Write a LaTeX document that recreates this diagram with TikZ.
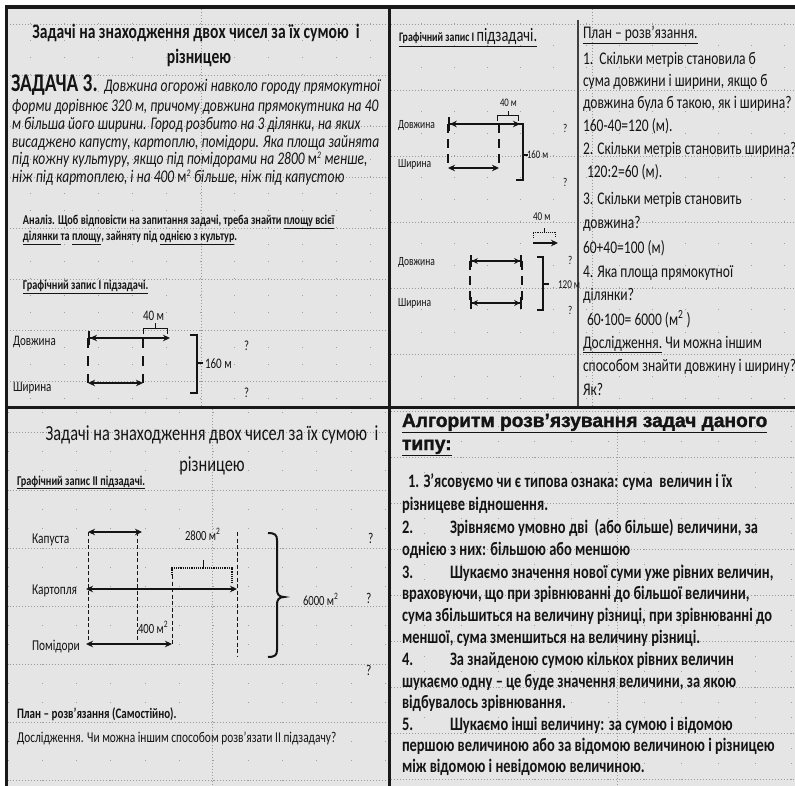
\documentclass[tikz,border=0pt]{standalone}
\usepackage{fontspec}
\setmainfont{Carlito}[FakeStretch=0.76]
\newfontfamily\headfont{Liberation Sans}[FakeStretch=1.0,FakeBold=1.5]
\usetikzlibrary{arrows.meta}
\definecolor{panelc}{RGB}{229,229,229}
\definecolor{ink}{RGB}{20,20,20}
\newcommand\fs[1]{\fontsize{#1pt}{#1pt}\selectfont}
\newcommand\panelgrid[9]{%
\begin{scope}
\clip (#1,#2) rectangle (#3,#4);
\foreach \j in {0,...,30}{\foreach \i in {0,...,12}{\fill[dotc] ({#5+#6*\i-0.5},{#7+#8*\j/3-0.5}) rectangle ++(1,1);}}
\foreach \j in {0,...,10}{\draw[gline] (#1,{#7+#8*\j}) -- (#3,{#7+#8*\j});}
\draw[gline] (#9,#2) -- (#9,#4);
\end{scope}}
\tikzset{
 dotc/.style={fill=black!38},
 gline/.style={draw=black!40, line width=0.7pt, dash pattern=on 1pt off 2pt},
 tx/.style={inner sep=0pt, outer sep=0pt, text=ink, anchor=base west},
 txc/.style={tx, anchor=base},
 border/.style={line width=3.2pt, black!90},
 arr/.style={line width=2pt, draw=ink, {Stealth[length=7pt,width=6.5pt]}-{Stealth[length=7pt,width=6.5pt]}},
 barr/.style={line width=2pt, draw=ink, {Bar[width=14pt]Stealth[length=7pt,width=6.5pt]}-{Stealth[length=7pt,width=6.5pt]}},
 bbarr/.style={line width=1.8pt, draw=ink, {Bar[width=12pt]Stealth[length=6pt,width=6pt]}-{Stealth[length=6pt,width=6pt]Bar[width=12pt]}},
 rarr/.style={line width=2pt, draw=ink, -{Stealth[length=7pt,width=6.5pt]}},
 dsh/.style={line width=2pt, draw=ink, dash pattern=on 10pt off 8pt},
 dshs/.style={line width=1.8pt, draw=ink, dash pattern=on 9pt off 6pt},
 dsht/.style={line width=0.9pt, draw=ink, dash pattern=on 4pt off 2.5pt},
 brc/.style={line width=2pt, draw=ink},
 thinb/.style={line width=0.9pt, draw=ink},
}
\begin{document}
\begin{tikzpicture}[x=1pt,y=-1pt]
\useasboundingbox (0,0) rectangle (795,786);
\fill[white] (0,0) rectangle (795,786);
\fill[panelc] (5,7) rectangle (795,786);
% grids
\panelgrid{7}{9}{388}{406}{30}{34}{-27}{51}{201}
\panelgrid{391}{9}{795}{406}{388}{33}{-42}{66}{592}
\panelgrid{7}{409}{388}{786}{8}{34.3}{374}{58}{212}
\panelgrid{391}{409}{795}{786}{388}{36.7}{365}{46}{617}
% borders
\draw[border] (5,7) -- (795,7);
\draw[border] (6.5,7) -- (6.5,786);
\draw[border] (389.5,7) -- (389.5,786);
\draw[border] (5,407.5) -- (795,407.5);
\draw[line width=1.5pt, black!75] (578,20) -- (578,406);

% ===== top-left =====
\node[txc,font=\bfseries\fs{20.5}] (t1) at (196,39) {Задачі на знаходження двох чисел за їх сумою~ і};
\node[txc,font=\bfseries\fs{20.5}] (t2) at (199,64) {різницею};
\node[tx,font=\bfseries\fs{25.5}] (z3) at (11,92) {ЗАДАЧА 3.};
\node[tx,font=\itshape\fs{17.8}] (i1) at (104,92) {Довжина огорожі навколо городу прямокутної};
\node[tx,font=\itshape\fs{17.8}] (i2) at (12,112) {форми дорівнює 320 м, причому довжина прямокутника на 40};
\node[tx,font=\itshape\fs{17.8}] (i3) at (12,130) {м більша його ширини. Город розбито на 3 ділянки, на яких};
\node[tx,font=\itshape\fs{17.8}] (i4) at (12,148) {висаджено капусту, картоплю, помідори. Яка площа зайнята};
\node[tx,font=\itshape\fs{17.8}] (i5) at (12,165) {під кожну культуру, якщо під помідорами на 2800 \textup{м}\textsuperscript{\fs{10}2}\ менше,};
\node[tx,font=\itshape\fs{17.8}] (i6) at (12,183) {ніж під картоплею, і на 400 \textup{м}\textsuperscript{\fs{10}2}\ більше, ніж під капустою};
\node[tx,font=\bfseries\fs{13.5}] (a1) at (23,225) {Аналіз. Щоб відповісти на запитання задачі, треба знайти \underline{площу всієї}};
\node[tx,font=\bfseries\fs{13.5}] (a2) at (23,241) {\underline{ділянки }та \underline{площу}, зайняту під \underline{однією з культур}.};
\node[tx,font=\bfseries\fs{13.5}] (g1) at (23,290) {\underline{Графічний запис І підзадачі.}};
\node[tx,font=\fs{14.5}] (dl1) at (13,345) {Довжина};
\node[tx,font=\fs{14.5}] (sh1) at (13,391) {Ширина};
\node[tx,font=\fs{14.5}] (m40a) at (143,320) {40 м};
\node[tx,font=\fs{14.5}] (m160a) at (205,368) {160 м};
\node[tx,font=\fs{14}] (q1) at (244,350) {?};
\node[tx,font=\fs{14}] (q2) at (244,397) {?};
% diagram 1
\coordinate (A1) at (88,338); \coordinate (A2) at (170,338);
\coordinate (A3) at (143,338); \coordinate (B1) at (88,383); \coordinate (B2) at (143,383);
\draw[dsh] (A1) -- (B1);
\draw[dsh] (A3) -- (B2);
\draw[barr] (A1) -- (A2);
\draw[arr] (B1) -- (B2);
\draw[thinb] (143,334) -- (143,328) -- (167,328) -- (167,334);
\draw[thinb] (155,328) -- (155,323);
\draw[brc] (190,335) -- (197,335) -- (197,393) -- (190,393);
\draw[brc] (197,363) -- (203,363);

% ===== top-right =====
\node[tx] (g2) at (399,42) {\underline{{\bfseries\fs{13}Графічний запис І }{\fs{19}підзадачі.}}};
\node[tx,font=\fs{12.5}] (dl2) at (398,129) {Довжина};
\node[tx,font=\fs{12.5}] (sh2) at (398,168) {Ширина};
\node[tx,font=\fs{11.5}] (m40b) at (500,107) {40 м};
\node[tx,font=\fs{11.5}] (m160b) at (527,159) {160 м};
\node[tx,font=\fs{12}] (q3) at (563,133) {?};
\node[tx,font=\fs{12}] (q4) at (563,187) {?};
\coordinate (C1) at (448,124); \coordinate (C2) at (520,124);
\coordinate (C3) at (499,124); \coordinate (D1) at (448,168); \coordinate (D2) at (499,168);
\draw[dshs] (C1) -- (D1);
\draw[dshs] (C3) -- (D2);
\draw[barr, line width=1.8pt] (C1) -- (C2);
\draw[arr, line width=1.8pt] (D1) -- (D2);
\draw[thinb] (497,121) -- (497,115) -- (518,115) -- (518,121);
\draw[thinb] (508,115) -- (508,111);
\draw[brc] (516,124) -- (523,124) -- (523,180) -- (516,180);
\draw[brc] (523,155) -- (528,155);
% diagram 2
\node[tx,font=\fs{12}] (m40c) at (533,221) {40 м};
\node[tx,font=\fs{12.5}] (dl3) at (398,266) {Довжина};
\node[tx,font=\fs{12.5}] (sh3) at (398,307) {Ширина};
\node[tx,font=\fs{12}] (m120) at (558,289) {120 м};
\node[tx,font=\fs{12}] (q5) at (568,265) {?};
\node[tx,font=\fs{12}] (q6) at (568,315) {?};
\coordinate (E1) at (533,243); \coordinate (E2) at (558,243);
\coordinate (F1) at (470,261); \coordinate (F2) at (522,261);
\coordinate (G1) at (470,303); \coordinate (G2) at (522,303);
\draw[rarr] (E1) -- (E2);
\draw[dshs] (F1) -- (G1);
\draw[dshs] (F2) -- (G2);
\draw[bbarr] (F1) -- (F2);
\draw[bbarr] (G1) -- (G2);
\draw[thinb, densely dotted] (533,238) -- (533,232) -- (555,232) -- (555,238);
\draw[thinb] (544,232) -- (544,228);
\draw[brc] (537,257) -- (543,257) -- (543,310) -- (537,310);
\draw[brc] (543,284) -- (549,284);
% plan
\node[tx,font=\fs{17.8}] (p0) at (583,39) {\underline{План – розв’язання.}};
\node[tx,font=\fs{17.8}] (p1) at (583,65) {1.\ \ Скільки метрів становила б};
\node[tx,font=\fs{17.8}] (p2) at (583,87) {сума довжини і ширини, якщо б};
\node[tx,font=\fs{17.8}] (p3) at (583,109) {довжина була б такою, як і ширина?};
\node[tx,font=\fs{17.8}] (p4) at (583,132) {160-40=120 (м).};
\node[tx,font=\fs{17.8}] (p5) at (583,155) {2. Скільки метрів становить ширина?};
\node[tx,font=\fs{17.8}] (p6) at (587,178) {120:2=60 (м).};
\node[tx,font=\fs{17.8}] (p7) at (583,205) {3. Скільки метрів становить};
\node[tx,font=\fs{17.8}] (p8) at (583,229) {довжина?};
\node[tx,font=\fs{17.8}] (p9) at (583,254) {60+40=100 (м)};
\node[tx,font=\fs{17.8}] (p10) at (583,278) {4. Яка площа прямокутної};
\node[tx,font=\fs{17.8}] (p11) at (583,301) {ділянки?};
\node[tx,font=\fs{17.8}] (p12) at (587,325) {60·100= 6000 (м\textsuperscript{2} )};
\node[tx,font=\fs{17.8}] (p13) at (583,348) {\underline{Дослідження.} Чи можна іншим};
\node[tx,font=\fs{17.8}] (p14) at (583,371) {способом знайти довжину і ширину?};
\node[tx,font=\fs{17.8}] (p15) at (583,395) {Як?};

% ===== bottom-left =====
\node[txc,font=\fs{21.5}] (b1) at (212,440) {Задачі на знаходження двох чисел за їх сумою~ і};
\node[txc,font=\fs{21.5}] (b2) at (212,471) {різницею};
\node[tx,font=\bfseries\fs{13.5}] (g3) at (17,485) {\underline{Графічний запис ІІ підзадачі.}};
\node[tx,font=\fs{15}] (kp) at (32,543) {Капуста};
\node[tx,font=\fs{15}] (kr) at (32,594) {Картопля};
\node[tx,font=\fs{15}] (pm) at (32,650) {Помідори};
\node[tx,font=\fs{14}] (n2800) at (185,540) {2800 м\textsuperscript{2}};
\node[tx,font=\fs{14}] (n6000) at (303,605) {6000 м\textsuperscript{2}};
\node[tx,font=\fs{14}] (n400) at (138,633) {400 м\textsuperscript{2}};
\node[tx,font=\fs{15}] (q7) at (368,543) {?};
\node[tx,font=\fs{15}] (q8) at (366,603) {?};
\node[tx,font=\fs{15}] (q9) at (366,675) {?};
\coordinate (K1) at (88,532); \coordinate (K2) at (142,532);
\coordinate (L1) at (86,589); \coordinate (L2) at (237,589);
\coordinate (M1) at (86,644); \coordinate (M2) at (172,644);
\draw[dsht] (88,532) -- (88,645);
\draw[dsht] (137,532) -- (137,645);
\draw[dsht] (172,575) -- (172,645);
\draw[dsht] (237,532) -- (237,657);
\draw[arr, line width=2.4pt] (K1) -- (K2);
\draw[arr, line width=2.4pt] (L1) -- (L2);
\draw[arr, line width=2.4pt] (M1) -- (M2);
\draw[line width=1.2pt, draw=ink, densely dotted] (172,575) -- (172,568) -- (232,568) -- (232,583);
\draw[thinb] (203,568) -- (203,560);
\draw[brc] (268,533) .. controls (275,533) and (277,535) .. (277,540) -- (277,590)
  .. controls (277,594) and (279,597) .. (284,597) .. controls (279,597) and (277,600) .. (277,604)
  -- (277,650) .. controls (277,655) and (275,657) .. (268,657);
\node[tx,font=\bfseries\fs{14.5}] (pl2) at (17,718) {План – розв’язання (Самостійно).};
\node[tx,font=\fs{15}] (ds2) at (17,742) {Дослідження. Чи можна іншим способом розв’язати ІІ підзадачу?};

% ===== bottom-right =====
\node[tx,font=\headfont\bfseries\fs{19.2}] (h1) at (402,427) {\underline{Алгоритм розв’язування задач даного}};
\node[tx,font=\headfont\bfseries\fs{19.2}] (h2) at (402,450) {\underline{типу:}};
\node[tx,font=\bfseries\fs{19}] (r1) at (408,487) {1. З’ясовуємо чи є типова ознака: сума\ \ величин і їх};
\node[tx,font=\bfseries\fs{19}] (r2) at (402,510) {різницеве відношення.};
\node[tx,font=\bfseries\fs{19}] (r3) at (402,533) {\makebox[48pt][l]{2.}Зрівняємо умовно дві\ \ (або більше) величини, за};
\node[tx,font=\bfseries\fs{19}] (r4) at (402,555) {однією з них: більшою або меншою};
\node[tx,font=\bfseries\fs{19}] (r5) at (402,578) {\makebox[48pt][l]{3.}Шукаємо значення нової суми уже рівних величин,};
\node[tx,font=\bfseries\fs{19}] (r6) at (402,599) {враховуючи, що при зрівнюванні до більшої величини,};
\node[tx,font=\bfseries\fs{19}] (r7) at (402,621) {сума збільшиться на величину різниці, при зрівнюванні до};
\node[tx,font=\bfseries\fs{19}] (r8) at (402,643) {меншої, сума зменшиться на величину різниці.};
\node[tx,font=\bfseries\fs{19}] (r9) at (402,665) {\makebox[48pt][l]{4.}За знайденою сумою кількох рівних величин};
\node[tx,font=\bfseries\fs{19}] (r10) at (402,687) {шукаємо одну – це буде значення величини, за якою};
\node[tx,font=\bfseries\fs{19}] (r11) at (402,708) {відбувалось зрівнювання.};
\node[tx,font=\bfseries\fs{19}] (r12) at (402,730) {\makebox[48pt][l]{5.}Шукаємо інші величину: за сумою і відомою};
\node[tx,font=\bfseries\fs{19}] (r13) at (402,751) {першою величиною або за відомою величиною і різницею};
\node[tx,font=\bfseries\fs{19}] (r14) at (402,772) {між відомою і невідомою величиною.};
\end{tikzpicture}
\end{document}
